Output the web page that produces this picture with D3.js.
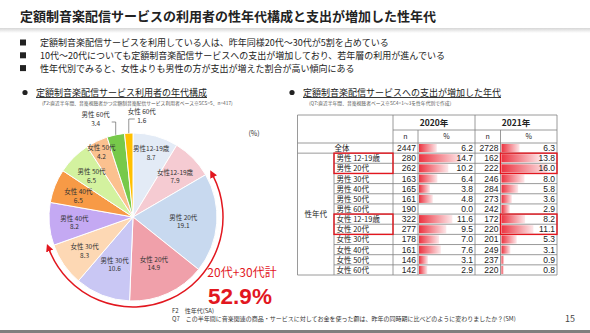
<!DOCTYPE html>
<html>
<head>
<meta charset="utf-8">
<script src="https://cdn.jsdelivr.net/npm/d3@7"></script>
<style>
  body { margin: 0; background: #fff; }
  svg { display: block; font-family: "Noto Sans CJK JP", sans-serif; }
</style>
</head>
<body>
<div id="chart"></div>
<script>
// pie: share of subscription users by sex / age (%)
const pieLabels = ["男性12-19歳", "女性12-19歳", "男性 20代", "女性 20代", "男性 30代", "女性 30代",
                   "男性 40代", "女性 40代", "男性 50代", "女性 50代", "男性 60代", "女性 60代"];
const pieValues = [8.7, 7.9, 19.1, 14.9, 10.6, 8.3, 8.2, 6.5, 6.5, 4.2, 3.4, 1.6];
const pieColors = ["#e3ebf6", "#f5cbd2", "#c8d9ef", "#f0a0aa", "#c9c7f4", "#fdd8b4",
                   "#c4a9f3", "#f79a46", "#d3f29f", "#fbc18f", "#77c94a", "#ffc000"];

// table: spend increased (%)
const years = ["2020年", "2021年"];
const totalN = [2447, 2728];
const totalPct = [6.2, 6.3];
const rowLabels = ["男性 12-19歳", "男性 20代", "男性 30代", "男性 40代", "男性 50代", "男性 60代",
                   "女性 12-19歳", "女性 20代", "女性 30代", "女性 40代", "女性 50代", "女性 60代"];
const n2020 = [280, 262, 163, 165, 161, 190, 322, 277, 178, 161, 146, 142];
const pct2020 = [14.7, 10.2, 6.4, 3.8, 4.8, 0.0, 11.6, 9.5, 7.0, 7.6, 3.1, 2.9];
const n2021 = [162, 222, 246, 284, 273, 242, 172, 220, 201, 249, 237, 220];
const pct2021 = [13.8, 16.0, 8.0, 5.8, 3.6, 2.9, 8.2, 11.1, 5.3, 3.1, 0.9, 0.8];
const highlightRows = [["男性 12-19歳", "男性 20代"], ["女性 12-19歳", "女性 20代"]];

const bullets = [
    "定額制音楽配信サービスを利用している人は、昨年同様20代～30代が5割を占めている",
    "10代～20代についても定額制音楽配信サービスへの支出が増加しており、若年層の利用が進んでいる",
    "性年代別でみると、女性よりも男性の方が支出が増えた割合が高い傾向にある"
];

const W = 590, H = 333;
const red = "#e2171f";

let svg = d3.select("#chart").append("svg")
    .attr("width", W)
    .attr("height", H);

let defs = svg.append("defs");

let sep = defs.append("linearGradient").attr("id", "sep")
    .attr("x1", 0).attr("x2", 0).attr("y1", 0).attr("y2", 1);
sep.append("stop").attr("offset", 0).attr("stop-color", "#d6d6d6");
sep.append("stop").attr("offset", 1).attr("stop-color", "#ffffff");

let barGrad = defs.append("linearGradient").attr("id", "bar");
barGrad.append("stop").attr("offset", 0).attr("stop-color", "#ec3340");
barGrad.append("stop").attr("offset", 1).attr("stop-color", "#fde8ea");

defs.append("marker").attr("id", "arrow")
    .attr("viewBox", "0 0 10 10")
    .attr("refX", 2).attr("refY", 5)
    .attr("markerWidth", 5).attr("markerHeight", 5)
    .attr("orient", "auto-start-reverse")
    .append("path").attr("d", "M0,0L10,5L0,10z").attr("fill", red);

// header
svg.append("text")
    .attr("x", 20).attr("y", 21)
    .attr("font-size", 13).attr("font-weight", "bold").attr("fill", "#222")
    .text("定額制音楽配信サービスの利用者の性年代構成と支出が増加した性年代");

svg.append("rect").attr("x", 0).attr("y", 28).attr("width", W).attr("height", 5)
    .attr("fill", "url(#sep)");

bullets.forEach((txt, i) => {
    let by = 46 + i * 12.8;
    svg.append("rect").attr("x", 20).attr("y", by - 6.5).attr("width", 6).attr("height", 6).attr("fill", "#222");
    svg.append("text").attr("x", 40).attr("y", by)
        .attr("font-size", 9).attr("fill", "#222").text(txt);
});

// section headers
function section(x, title, note) {
    svg.append("circle").attr("cx", x).attr("cy", 92.5).attr("r", 2.6).attr("fill", "#222");
    svg.append("text").attr("x", x + 11).attr("y", 96)
        .attr("font-size", 9).attr("fill", "#222")
        .attr("text-decoration", "underline").text(title);
    svg.append("text").attr("x", x + 17).attr("y", 104.5)
        .attr("font-size", 4.8).attr("fill", "#555").text(note);
}
section(25, "定額制音楽配信サービス利用者の年代構成",
    "(F2:直近半年間、音楽視聴者かつ定額制音楽配信サービス利用者ベース※SCS=5、n=417)");
section(292, "定額制音楽配信サービスへの支出が増加した年代",
    "(Q7:直近半年間、音楽視聴者ベース※SC4=1～3を性年代別で作成)");

// ---------- pie ----------
const cx = 133, cy = 217, r = 84;
const g = svg.append("g").attr("transform", "translate(" + cx + "," + cy + ")");

let pie = d3.pie().sort(null).value(d => d);
let arcs = pie(pieValues);
let arc = d3.arc().innerRadius(0).outerRadius(r);

g.selectAll("path.slice")
    .data(arcs)
    .enter()
    .append("path")
    .attr("class", "slice")
    .attr("d", arc)
    .attr("fill", (d, i) => pieColors[i])
    .attr("stroke", "#fff")
    .attr("stroke-width", 1);

// labels inside (big slices) and outside (two smallest)
arcs.forEach((d, i) => {
    let a = (d.startAngle + d.endAngle) / 2;
    let v = d.value;
    if (v < 4) {
        let px = Math.sin(a) * r, py = -Math.cos(a) * r;
        let last = i === arcs.length - 1;
        let ly = -r - (last ? 16 : 13);
        g.append("path")
            .attr("d", "M" + px + "," + py + "L" + px + "," + (ly + 2) + (last ? "l6,0" : "l-4,0"))
            .attr("fill", "none").attr("stroke", "#666").attr("stroke-width", 0.7);
        let lx = last ? px + 13 : px - 20;
        g.append("text").attr("text-anchor", "middle")
            .attr("font-size", 6.5).attr("fill", "#333")
            .attr("x", lx).attr("y", ly - 3.5).text(pieLabels[i]);
        g.append("text").attr("text-anchor", "middle")
            .attr("font-size", 6.5).attr("fill", "#333")
            .attr("x", lx).attr("y", ly + 5.5).text(v.toFixed(1));
        return;
    }
    let f = v < 5 ? 0.87 : i === 0 ? 0.8 : v < 9 ? 0.7 : 0.6;
    let x = Math.sin(a) * r * f, yy = -Math.cos(a) * r * f;
    let lab = g.append("text").attr("text-anchor", "middle")
        .attr("font-size", 6.5).attr("fill", "#333");
    lab.append("tspan").attr("x", x).attr("y", yy - 1).text(pieLabels[i]);
    lab.append("tspan").attr("x", x).attr("y", yy + 7.5).text(v.toFixed(1));
});

svg.append("text").attr("x", 254).attr("y", 136).attr("text-anchor", "middle")
    .attr("font-size", 7).attr("fill", "#333").text("(%)");

// red arc around 20s + 30s
let a0 = arcs[2].startAngle, a1 = arcs[5].endAngle;
let p = d3.path();
p.arc(0, 0, r + 6, a0 - Math.PI / 2 + 0.05, a1 - Math.PI / 2 - 0.03);
g.append("path").attr("d", p.toString())
    .attr("fill", "none").attr("stroke", red).attr("stroke-width", 1.5)
    .attr("marker-start", "url(#arrow)").attr("marker-end", "url(#arrow)");

let share = d3.sum(pieValues.slice(2, 6));
svg.append("text").attr("x", 242).attr("y", 277).attr("text-anchor", "middle")
    .attr("font-size", 12).attr("fill", red).text("20代+30代計");
svg.append("text").attr("x", 240).attr("y", 304).attr("text-anchor", "middle")
    .attr("font-family", "Liberation Sans, Arial, sans-serif")
    .attr("font-size", 22.5).attr("font-weight", "bold").attr("fill", red)
    .text(share.toFixed(1) + "%");

// ---------- table ----------
const tx = [297.5, 334, 393, 418, 475, 500.5, 557];
const tabTop = 115, subTop = 130, bodyTop = 143, tabBottom = 275;
const lineC = "#808080";
const tbl = svg.append("g");

let y = d3.scaleBand().domain(["全体"].concat(rowLabels)).range([bodyTop, tabBottom]);
let bar = d3.scaleLinear().domain([0, 16]).range([0, 46]);

function hline(x1, x2, yy) {
    tbl.append("line").attr("x1", x1).attr("x2", x2).attr("y1", yy).attr("y2", yy)
        .attr("stroke", lineC).attr("stroke-width", 0.8);
}
function vline(xx, y1, y2) {
    tbl.append("line").attr("x1", xx).attr("x2", xx).attr("y1", y1).attr("y2", y2)
        .attr("stroke", lineC).attr("stroke-width", 0.8);
}

// data bars first, so grid sits on top
const yearN = [n2020, n2021], yearPct = [pct2020, pct2021];
[0, 1].forEach(k => {
    let x0 = tx[3 + 2 * k];
    let all = [{label: "全体", n: totalN[k], pct: totalPct[k]}].concat(
        rowLabels.map((l, i) => ({label: l, n: yearN[k][i], pct: yearPct[k][i]})));
    all.forEach(d => {
        if (d.pct > 0) {
            tbl.append("rect").attr("x", x0 + 1).attr("y", y(d.label) + 1)
                .attr("width", bar(d.pct)).attr("height", y.bandwidth() - 2)
                .attr("fill", "url(#bar)");
        }
        tbl.append("text").attr("x", tx[3 + 2 * k] - 2).attr("y", y(d.label) + y.bandwidth() / 2 + 3)
            .attr("text-anchor", "end").attr("font-size", 8.5)
            .attr("font-family", "Liberation Sans, Arial, sans-serif").attr("fill", "#222")
            .text(d.n);
        tbl.append("text").attr("x", tx[4 + 2 * k] - 2).attr("y", y(d.label) + y.bandwidth() / 2 + 3)
            .attr("text-anchor", "end").attr("font-size", 8.5)
            .attr("font-family", "Liberation Sans, Arial, sans-serif").attr("fill", "#222")
            .text(d.pct.toFixed(1));
    });
    tbl.append("text").attr("x", (tx[2 + 2 * k] + tx[4 + 2 * k]) / 2).attr("y", tabTop + 10.5)
        .attr("text-anchor", "middle").attr("font-size", 8.5).attr("font-weight", "bold")
        .attr("fill", "#222").text(years[k]);
    tbl.append("text").attr("x", (tx[2 + 2 * k] + tx[3 + 2 * k]) / 2).attr("y", subTop + 9)
        .attr("text-anchor", "middle").attr("font-size", 7).attr("fill", "#222").text("n");
    tbl.append("text").attr("x", (tx[3 + 2 * k] + tx[4 + 2 * k]) / 2).attr("y", subTop + 9)
        .attr("text-anchor", "middle").attr("font-size", 7).attr("fill", "#222").text("%");
});

// row labels
tbl.append("text").attr("x", 342).attr("y", y("全体") + y.bandwidth() / 2 + 3)
    .attr("text-anchor", "middle").attr("font-size", 7.5).attr("fill", "#222").text("全体");
rowLabels.forEach(l => {
    tbl.append("text").attr("x", tx[1] + 2.5).attr("y", y(l) + y.bandwidth() / 2 + 3)
        .attr("font-size", 7.5).attr("fill", "#222").text(l);
});
tbl.append("text").attr("x", (tx[0] + tx[1]) / 2)
    .attr("y", (y(rowLabels[0]) + tabBottom) / 2 + 3)
    .attr("text-anchor", "middle").attr("font-size", 7.5).attr("fill", "#222").text("性年代");

// grid
hline(tx[0], tx[6], tabTop);
hline(tx[2], tx[6], subTop);
hline(tx[0], tx[6], bodyTop);
hline(tx[0], tx[6], y(rowLabels[0]));
rowLabels.slice(1).forEach(l => hline(tx[1], tx[6], y(l)));
hline(tx[0], tx[6], tabBottom);
vline(tx[0], tabTop, tabBottom);
vline(tx[1], y(rowLabels[0]), tabBottom);
vline(tx[2], tabTop, tabBottom);
vline(tx[3], subTop, tabBottom);
vline(tx[4], tabTop, tabBottom);
vline(tx[5], subTop, tabBottom);
vline(tx[6], tabTop, tabBottom);

// red highlight boxes
highlightRows.forEach(pair => {
    let y1 = y(pair[0]), y2 = y(pair[1]) + y.bandwidth();
    [[tx[1], tx[2]], [tx[5], tx[6]]].forEach(c => {
        tbl.append("rect").attr("x", c[0]).attr("y", y1)
            .attr("width", c[1] - c[0]).attr("height", y2 - y1)
            .attr("fill", "none").attr("stroke", red).attr("stroke-width", 1.4);
    });
});

// footer
svg.append("text").attr("x", 172).attr("y", 313).attr("font-size", 6).attr("fill", "#333")
    .text("F2　性年代(SA)");
svg.append("text").attr("x", 172).attr("y", 321).attr("font-size", 6).attr("fill", "#333")
    .text("Q7　この半年間に音楽関連の商品・サービスに対してお金を使った額は、昨年の同時期に比べどのように変わりましたか？(SM)");
svg.append("text").attr("x", 575).attr("y", 322).attr("text-anchor", "end")
    .attr("font-size", 9).attr("fill", "#444").text("15");
svg.append("rect").attr("x", 0).attr("y", 330).attr("width", W).attr("height", 3).attr("fill", "#7f7f7f");
</script>
</body>
</html>
